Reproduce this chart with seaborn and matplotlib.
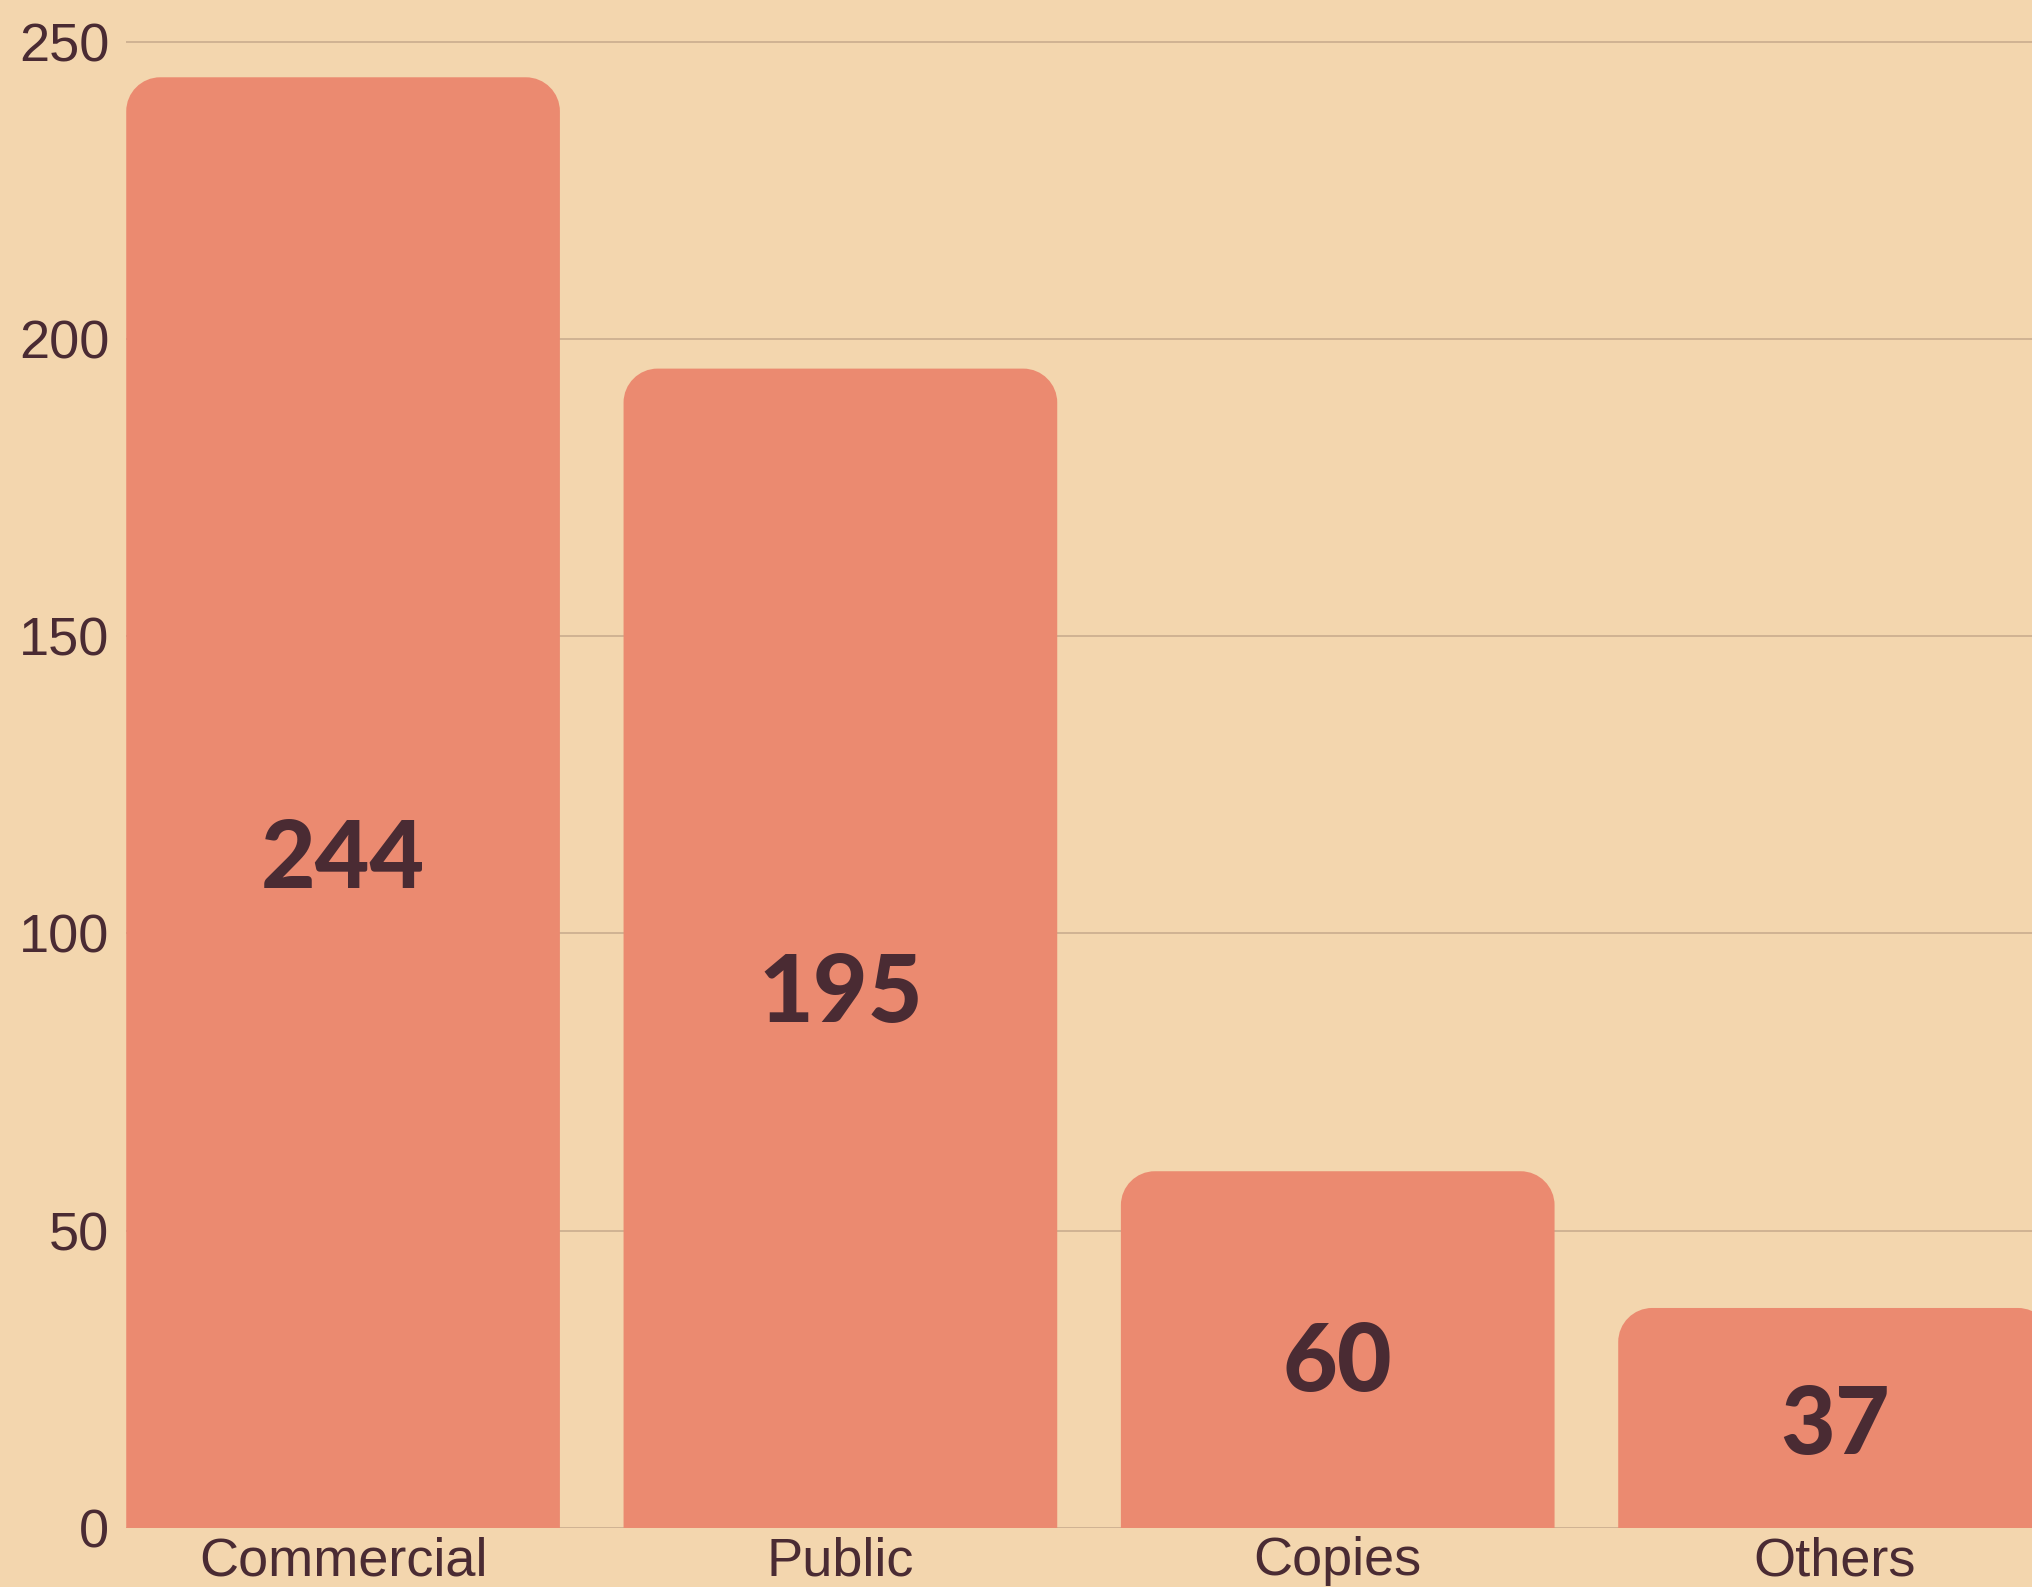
import matplotlib
matplotlib.use("Agg")
import matplotlib.pyplot as plt
import seaborn as sns
import pandas as pd
from matplotlib.patches import PathPatch
from matplotlib.path import Path

categories = ["Commercial", "Public", "Copies", "Others"]
values = [244, 195, 60, 37]
yticks = [0, 50, 100, 150, 200, 250]

BG = "#F3D6AE"
BAR = "#EB8A70"
TXT = "#4A2B33"
GRID = "#C9AD8E"

sns.set_theme(style="white")
plt.rcParams['font.family'] = ['Liberation Sans', 'DejaVu Sans']

df = pd.DataFrame({"cat": categories, "val": values})

fig = plt.figure(figsize=(10.16, 7.935), dpi=200, facecolor=BG)
ax = fig.add_axes([0.062, 0.0372, 0.938, 0.9628])
ax.set_facecolor(BG)

sns.barplot(data=df, x="cat", y="val", color=BAR, width=0.872, saturation=1,
            ax=ax, zorder=2)

ax.set_xlim(-0.4365, 3.396)
ax.set_ylim(0, 257)
ax.set_yticks(yticks)
ax.grid(axis="y", color=GRID, linewidth=0.6, zorder=0)
ax.grid(axis="x", visible=False)
for s in ax.spines.values():
    s.set_visible(False)
ax.set_xlabel("")
ax.set_ylabel("")
ax.tick_params(axis="y", length=0, pad=6, labelsize=19.5, labelcolor=TXT)
ax.tick_params(axis="x", length=0, pad=3, labelsize=19.5, labelcolor=TXT)

# replace bars with top-rounded bars (circular corners in pixel space)
fig.canvas.draw()
px_per_x = ax.transData.transform((1, 0))[0] - ax.transData.transform((0, 0))[0]
px_per_y = ax.transData.transform((0, 1))[1] - ax.transData.transform((0, 0))[1]
r_px = 34
rx = r_px / px_per_x
ry = r_px / px_per_y
k = 0.5523
for p in list(ax.patches):
    x, w, h = p.get_x(), p.get_width(), p.get_height()
    p.remove()
    x0, x1 = x, x + w
    verts = [
        (x0, 0),
        (x0, h - ry),
        (x0, h - ry + k * ry), (x0 + rx - k * rx, h), (x0 + rx, h),
        (x1 - rx, h),
        (x1 - rx + k * rx, h), (x1, h - ry + k * ry), (x1, h - ry),
        (x1, 0),
        (x0, 0),
    ]
    codes = [Path.MOVETO, Path.LINETO,
             Path.CURVE4, Path.CURVE4, Path.CURVE4,
             Path.LINETO,
             Path.CURVE4, Path.CURVE4, Path.CURVE4,
             Path.LINETO, Path.CLOSEPOLY]
    ax.add_patch(PathPatch(Path(verts, codes), facecolor=BAR,
                           edgecolor="none", zorder=2))
    ax.text(x + w / 2, h * 0.46, f"{h:.0f}", ha="center", va="center",
            fontsize=34, fontweight="black", color=TXT,
            family=["Lato", "DejaVu Sans"], zorder=3)

fig.savefig("out.png", dpi=200, facecolor=BG)
